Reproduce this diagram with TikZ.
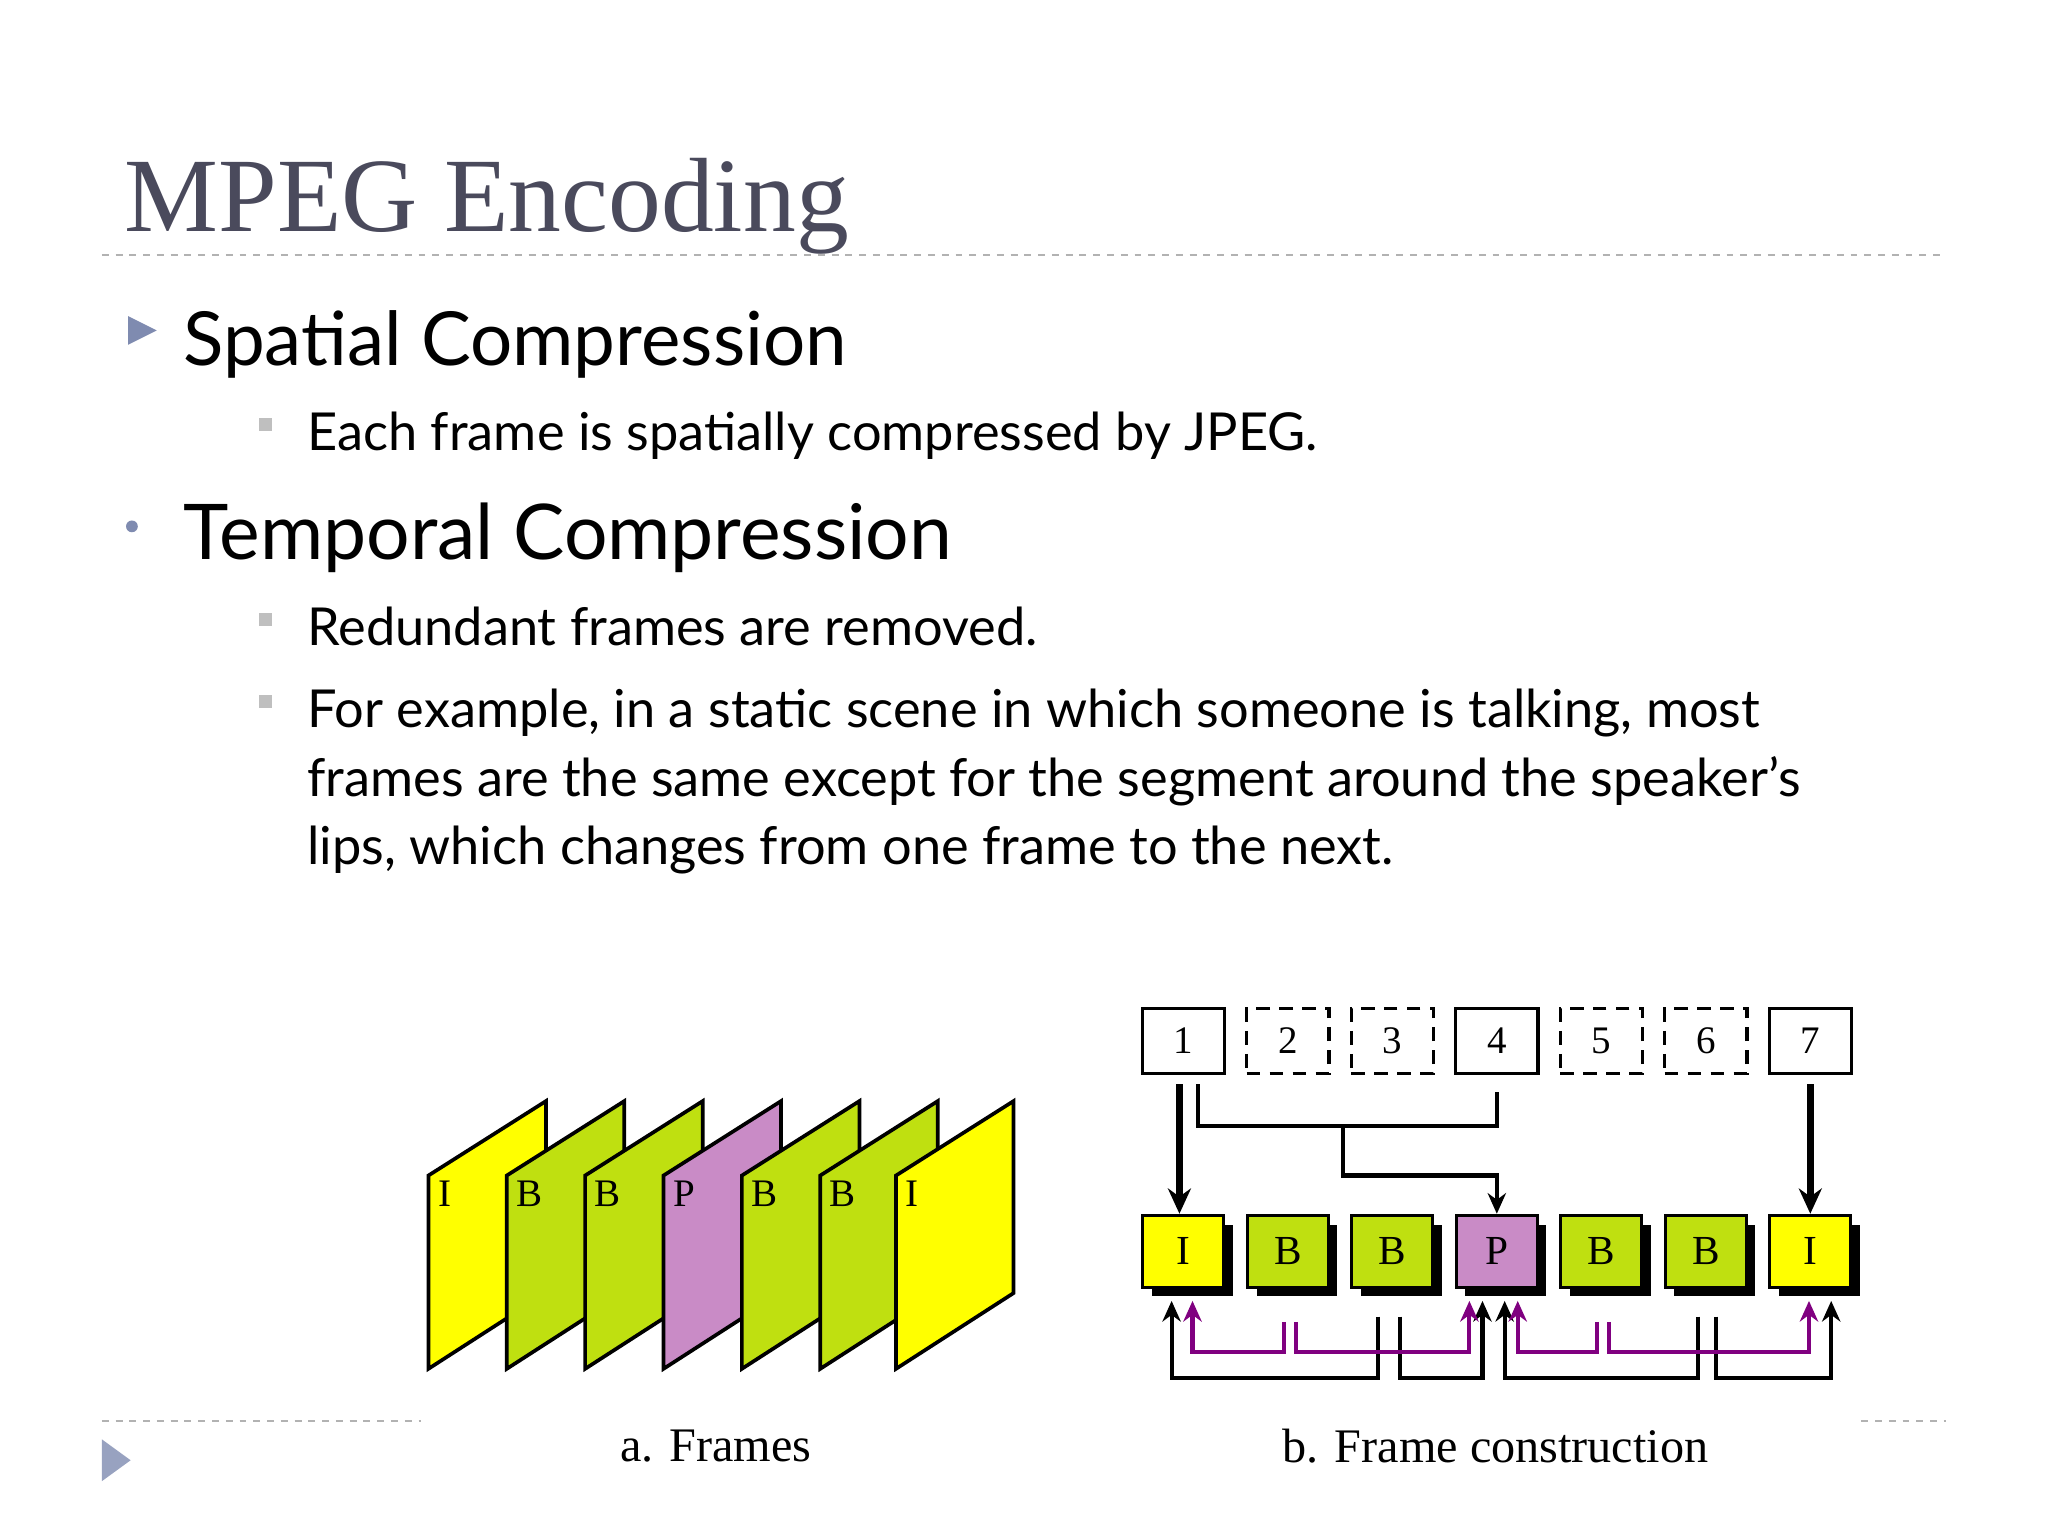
\documentclass[tikz,border=0pt]{standalone}
\usepackage{fontspec}
\setmainfont{Liberation Serif}
\newfontfamily\gs{Lato}
\usetikzlibrary{arrows.meta}
\definecolor{titlec}{HTML}{4A4A5C}
\definecolor{bulc}{HTML}{7F8BB0}
\definecolor{fy}{HTML}{FFFF00}
\definecolor{fg}{HTML}{BFE010}
\definecolor{fp}{HTML}{C98BC6}
\definecolor{pur}{HTML}{800080}
\tikzset{
 txt/.style={anchor=base west,inner sep=0pt},
 frm/.style={draw=black,line width=1.6pt,line join=miter},
 top/.style={draw,line width=1.4pt,minimum width=63*0.02cm,minimum height=50*0.02cm,inner sep=0pt,font=\fontsize{17}{17}\selectfont},
 topd/.style={top,dashed,dash pattern=on 6pt off 4pt},
 bot/.style={draw,line width=1.4pt,minimum width=62*0.02cm,minimum height=55*0.02cm,inner sep=0pt,font=\fontsize{18}{18}\selectfont},
 shad/.style={fill=black,minimum width=62*0.02cm,minimum height=55*0.02cm,inner sep=0pt},
 thk/.style={line width=3pt,-{Stealth[length=11pt,width=10pt]}},
 blk/.style={line width=1.8pt},
 prp/.style={line width=1.8pt,draw=pur},
 tip/.style={-{Stealth[length=9pt,width=8pt]}}
}
\begin{document}
\begin{tikzpicture}[x=0.02cm,y=-0.02cm]
\useasboundingbox (0,0) rectangle (1568,1176);
\fill[white] (0,0) rectangle (1568,1176);
\node[txt,text=titlec,font=\fontsize{46}{46}\selectfont] (title) at (95,177) {MPEG Encoding};
\draw[gray!60,dashed,line width=0.8pt] (78,195) -- (1490,195);
\fill[bulc] (98,242) -- (120,253) -- (98,264) -- cycle;
\node[txt,font=\gs\fontsize{32.5}{32.5}\selectfont] (h1) at (140,280) {Spatial Compression};
\fill[gray!50] (198,320) rectangle (208,330);
\node[txt,font=\gs\fontsize{22.8}{22.8}\selectfont] (s1) at (235,345) {Each frame is spatially compressed by JPEG.};
\fill[bulc] (101,403) circle (4.5);
\node[txt,font=\gs\fontsize{33.5}{33.5}\selectfont] (h2) at (140,428) {Temporal Compression};
\fill[gray!50] (198,469) rectangle (208,479);
\node[txt,font=\gs\fontsize{22.8}{22.8}\selectfont] (s2) at (235,494) {Redundant frames are removed.};
\fill[gray!50] (198,532) rectangle (208,542);
\node[txt,font=\gs\fontsize{22.8}{22.8}\selectfont] (s3) at (235,557) {For example, in a static scene in which someone is talking, most};
\node[txt,font=\gs\fontsize{22.8}{22.8}\selectfont] (s4) at (235,610) {frames are the same except for the segment around the speaker’s};
\node[txt,font=\gs\fontsize{22.8}{22.8}\selectfont] (s5) at (235,662) {lips, which changes from one frame to the next.};
% frames
\foreach \x/\c/\l in {328/fy/I,388/fg/B,448/fg/B,508/fp/P,568/fg/B,628/fg/B,686/fy/I}{
  \filldraw[frm,fill=\c] (\x,900) -- (\x+90,843) -- (\x+90,990) -- (\x,1048) -- cycle;
  \node[txt,font=\fontsize{17}{17}\selectfont] at (\x+7,924) {\l};
}
\draw[gray!60,dashed,line width=0.8pt] (78,1088) -- (322,1088);
\draw[gray!60,dashed,line width=0.8pt] (1425,1088) -- (1490,1088);
\fill[bulc!80] (78,1102) -- (100,1118) -- (78,1134) -- cycle;
\node[font=\fontsize{21}{21}\selectfont] (ca) at (548,1107) {a. Frames};
\node[font=\fontsize{21}{21}\selectfont] (cb) at (1145,1107) {b. Frame construction};
% top row
\node[top] (t1) at (906,797) {1};
\node[topd] (t2) at (986,797) {2};
\node[topd] (t3) at (1066,797) {3};
\node[top] (t4) at (1146,797) {4};
\node[topd] (t5) at (1226,797) {5};
\node[topd] (t6) at (1306,797) {6};
\node[top] (t7) at (1386,797) {7};
% bottom row
\foreach \i/\c/\l in {1/fy/I,2/fg/B,3/fg/B,4/fp/P,5/fg/B,6/fg/B,7/fy/I}{
  \node[shad] at (906+80*\i-80+7,965) {};
  \node[bot,fill=\c] (b\i) at (906+80*\i-80,958) {\l};
}
\draw[thk] (903,830) -- (b1.north -| 903,0);
\draw[thk] (1386,830) -- (b7.north);
\draw[blk] (917,830) -- (917,862) -- (1146,862) -- (1146,836);
\draw[blk,tip] (1028,862) -- (1028,900) -- (1146,900) -- (b4.north -| 1146,0);
% bottom connectors
\draw[blk,tip] (1055,1008) -- (1055,1055) -- (897,1055) -- (897,996);
\draw[blk,tip] (1072,1008) -- (1072,1055) -- (1135,1055) -- (1135,996);
\draw[blk,tip] (1300,1008) -- (1300,1055) -- (1152,1055) -- (1152,996);
\draw[blk,tip] (1314,1008) -- (1314,1055) -- (1402,1055) -- (1402,996);
\draw[prp,tip] (983,1012) -- (983,1035) -- (913,1035) -- (913,996);
\draw[prp,tip] (992,1012) -- (992,1035) -- (1125,1035) -- (1125,996);
\draw[prp,tip] (1223,1012) -- (1223,1035) -- (1162,1035) -- (1162,996);
\draw[prp,tip] (1232,1012) -- (1232,1035) -- (1385,1035) -- (1385,996);
\end{tikzpicture}
\end{document}
